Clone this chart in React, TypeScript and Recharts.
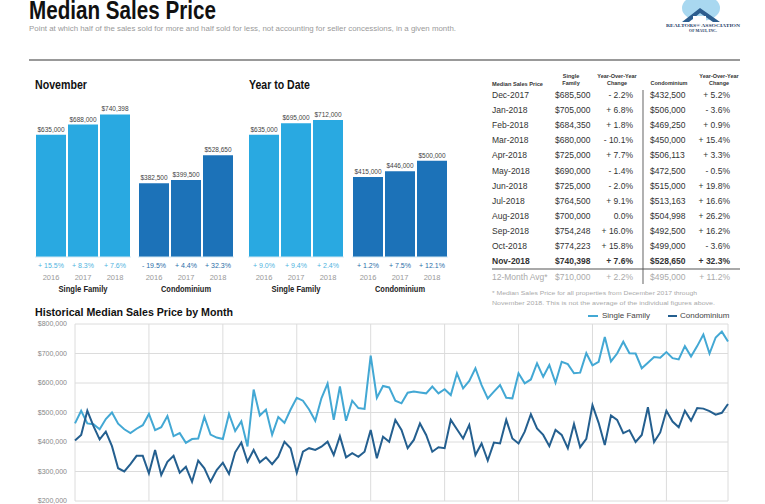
import React from 'react';
import { BarChart, Bar, XAxis, YAxis, LabelList, LineChart, Line, CartesianGrid } from 'recharts';

const FONT = '"Liberation Sans", Arial, sans-serif';
const LIGHT = '#29a9e1';
const DARK = '#1c72b8';
const LINE_LIGHT = '#43a8d4';
const LINE_DARK = '#245f8f';

// bar panels
const barYears = ['2016', '2017', '2018'];
const novSingle = [635000, 688000, 740398];
const novSingleChg = ['+ 15.5%', '+ 8.3%', '+ 7.6%'];
const novCondo = [382500, 399500, 528650];
const novCondoChg = ['- 19.5%', '+ 4.4%', '+ 32.3%'];
const ytdSingle = [635000, 695000, 712000];
const ytdSingleChg = ['+ 9.0%', '+ 9.4%', '+ 2.4%'];
const ytdCondo = [415000, 446000, 500000];
const ytdCondoChg = ['+ 1.2%', '+ 7.5%', '+ 12.1%'];

// table
const tableMonths = ['Dec-2017', 'Jan-2018', 'Feb-2018', 'Mar-2018', 'Apr-2018', 'May-2018', 'Jun-2018', 'Jul-2018', 'Aug-2018', 'Sep-2018', 'Oct-2018', 'Nov-2018'];
const tableSingle = [685500, 705000, 684350, 680000, 725000, 690000, 725000, 764500, 700000, 754248, 774223, 740398];
const tableSingleChg = ['- 2.2%', '+ 6.8%', '+ 1.8%', '- 10.1%', '+ 7.7%', '- 1.4%', '- 2.0%', '+ 9.1%', '0.0%', '+ 16.0%', '+ 15.8%', '+ 7.6%'];
const tableCondo = [432500, 506000, 469250, 450000, 506113, 472500, 515000, 513163, 504998, 492500, 499000, 528650];
const tableCondoChg = ['+ 5.2%', '- 3.6%', '+ 0.9%', '+ 15.4%', '+ 3.3%', '- 0.5%', '+ 19.8%', '+ 16.6%', '+ 26.2%', '+ 16.2%', '- 3.6%', '+ 32.3%'];
const avgRow = ['12-Month Avg*', '$710,000', '+ 2.2%', '$495,000', '+ 11.2%'];

// history, Jan 2010 - Nov 2018, in $1,000s
const historyYears = [2010, 2011, 2012, 2013, 2014, 2015, 2016, 2017, 2018];
const monthNames = ['Jan', 'Feb', 'Mar', 'Apr', 'May', 'Jun', 'Jul', 'Aug', 'Sep', 'Oct', 'Nov', 'Dec'];
const singleFamily = [
  463, 506, 463, 460, 443, 478, 500, 462, 443, 430, 445, 457,
  495, 440, 450, 488, 420, 430, 397, 410, 412, 485, 425, 415,
  410, 495, 437, 470, 385, 578, 490, 510, 425, 485, 465, 510,
  550, 540, 510, 472, 548, 598, 475, 588, 472, 540, 515, 512,
  693, 550, 590, 585, 540, 531, 567, 571, 568, 565, 588, 565,
  579, 559, 633, 582, 607, 650, 593, 548, 571, 593, 550, 548,
  633, 599, 612, 667, 621, 661, 601, 672, 664, 633, 635, 701,
  660, 672, 756, 673, 700, 740, 701, 700, 650, 669, 688, 685.5,
  705, 684.35, 680, 725, 690, 725, 764.5, 700, 754.248, 774.223, 740.398,
];
const condominium = [
  405, 424, 506, 454, 409, 435, 386, 311, 300, 325, 353, 353,
  294, 373, 288, 333, 353, 296, 316, 265, 337, 311, 265, 305,
  330, 292, 365, 398, 333, 373, 331, 348, 325, 350, 401, 379,
  296, 367, 379, 373, 384, 401, 356, 420, 348, 362, 350, 367,
  441, 345, 418, 401, 475, 441, 379, 407, 463, 424, 367, 382,
  379, 475, 443, 412, 458, 356, 395, 337, 398, 395, 475, 412,
  395, 435, 494, 446, 424, 386, 441, 424, 379, 461, 382.5, 411,
  525, 465, 390, 490, 475, 430, 440, 400, 424, 518, 399.5, 432.5,
  506, 469.25, 450, 506.113, 472.5, 515, 513.163, 504.998, 492.5, 499, 528.65,
];
const yTicks = [200, 300, 400, 500, 600, 700, 800];

const monthLabels: string[] = [];
historyYears.forEach((y) => monthNames.forEach((m) => monthLabels.push(`${m}-${String(y).slice(2)}`)));
const history = singleFamily.map((v, i) => ({ month: monthLabels[i], single: v, condo: condominium[i] }));
const xTicks = history.filter((d, i) => d.month.startsWith('Jan') || i === history.length - 1).map((d) => d.month);

const money = (v: number) => '$' + Math.round(v).toLocaleString('en-US');

const ChangeTick = (props: any) => {
  const { x, y, payload, changes, color } = props;
  return (
    <g>
      <text x={x} y={y + 10.5} textAnchor="middle" fontSize={7} fill={color} fontFamily={FONT}>{changes[payload.index]}</text>
      <text x={x} y={y + 22.5} textAnchor="middle" fontSize={7.5} fill="#999" fontFamily={FONT}>{payload.value}</text>
    </g>
  );
};

const GroupBars = ({ left, values, changes, color, chgColor, label, labelWidth }: any) => {
  const data = barYears.map((y, i) => ({ year: y, value: values[i] }));
  return (
    <div style={{ position: 'absolute', left, top: 93 }}>
      <BarChart width={96} height={204} data={data} margin={{ top: 10, right: 0, bottom: 0, left: 0 }} barCategoryGap={1}>
        <YAxis hide domain={[0, 800000]} />
        <XAxis
          dataKey="year"
          height={40}
          interval={0}
          tickSize={0}
          tickMargin={0}
          tickLine={false}
          axisLine={{ stroke: '#d3e8f3' }}
          tick={(p: any) => <ChangeTick {...p} changes={changes} color={chgColor} />}
          label={{
            content: (p: any) => {
              const vb = p.viewBox;
              return (
                <text x={vb.x + vb.width / 2} y={vb.y + 34.5} textAnchor="middle" fontSize={8.5} fontWeight="bold" fill="#222" fontFamily={FONT} textLength={labelWidth} lengthAdjust="spacingAndGlyphs">{label}</text>
              );
            },
          }}
        />
        <Bar dataKey="value" fill={color} isAnimationActive={false}>
          <LabelList dataKey="value" position="top" offset={3} formatter={(v: any) => money(v)} style={{ fontSize: 6.5, fill: '#444', fontFamily: FONT }} />
        </Bar>
      </BarChart>
    </div>
  );
};

const HistoryLegend = () => (
  <div style={{ position: 'absolute', left: 588, top: 311, display: 'flex', alignItems: 'center', fontFamily: FONT, fontSize: 8, color: '#444', lineHeight: '10px' }}>
    <span style={{ display: 'inline-block', width: 10, height: 2, background: LINE_LIGHT, marginRight: 4 }} />
    <span style={{ marginRight: 18 }}>Single Family</span>
    <span style={{ display: 'inline-block', width: 9, height: 2, background: LINE_DARK, marginRight: 3 }} />
    <span>Condominium</span>
  </div>
);

const Overlay = () => {
  const rowY = (i: number) => 98 + i * 15.1;
  return (
    <svg width={765} height={504} style={{ position: 'absolute', left: 0, top: 0, pointerEvents: 'none' }} fontFamily={FONT}>
      <text x={29} y={18.5} fontSize={25} fontWeight="bold" fill="#111" textLength={187} lengthAdjust="spacingAndGlyphs">Median Sales Price</text>
      <text x={29} y={30.5} fontSize={7} fill="#9a9a9a" textLength={427} lengthAdjust="spacingAndGlyphs">
        Point at which half of the sales sold for more and half sold for less, not accounting for seller concessions, in a given month.
      </text>
      <line x1={29} y1={60} x2={740} y2={60} stroke="#777" strokeWidth={1.3} />

      {/* logo */}
      <ellipse cx={701} cy={8} rx={19} ry={13} fill="#a9d8f0" />
      <polygon points="682,22 700,8 720,22 713,22 700,13 689,22" fill="#2c5d8e" />
      <rect x={693} y={16} width={13} height={6} fill="#fff" />
      <text x={703} y={27} fontSize={4.8} fontWeight="bold" fill="#1d3b66" textAnchor="middle" fontFamily='"Liberation Serif", serif' textLength={74} lengthAdjust="spacingAndGlyphs">REALTORS® ASSOCIATION</text>
      <text x={703} y={32} fontSize={4.8} fontWeight="bold" fill="#1d3b66" textAnchor="middle" fontFamily='"Liberation Serif", serif' textLength={28} lengthAdjust="spacingAndGlyphs">OF MAUI, INC.</text>

      <text x={35} y={88.5} fontSize={12} fontWeight="bold" fill="#111" textLength={52} lengthAdjust="spacingAndGlyphs">November</text>
      <text x={249} y={88.5} fontSize={12} fontWeight="bold" fill="#111" textLength={61} lengthAdjust="spacingAndGlyphs">Year to Date</text>

      {/* table header */}
      <g fontSize={5.5} fontWeight="bold" fill="#333">
        <text x={492} y={86} textLength={51} lengthAdjust="spacingAndGlyphs">Median Sales Price</text>
        <text x={571} y={77.5} textAnchor="middle">Single</text>
        <text x={571} y={85} textAnchor="middle">Family</text>
        <text x={617} y={77.5} textAnchor="middle">Year-Over-Year</text>
        <text x={617} y={85} textAnchor="middle">Change</text>
        <text x={669} y={85} textAnchor="middle">Condominium</text>
        <text x={719} y={77.5} textAnchor="middle">Year-Over-Year</text>
        <text x={719} y={85} textAnchor="middle">Change</text>
      </g>
      <g fontSize={8.5} fill="#333">
        {tableMonths.map((m, i) => {
          const bold = i === tableMonths.length - 1 ? 'bold' : 'normal';
          return (
            <g key={m} fontWeight={bold}>
              <text x={492} y={rowY(i)}>{m}</text>
              <text x={555} y={rowY(i)}>{money(tableSingle[i])}</text>
              <text x={633} y={rowY(i)} textAnchor="end">{tableSingleChg[i]}</text>
              <text x={650} y={rowY(i)}>{money(tableCondo[i])}</text>
              <text x={730} y={rowY(i)} textAnchor="end">{tableCondoChg[i]}</text>
            </g>
          );
        })}
        <g fill="#aaa">
          <text x={492} y={280}>{avgRow[0]}</text>
          <text x={555} y={280}>{avgRow[1]}</text>
          <text x={633} y={280} textAnchor="end">{avgRow[2]}</text>
          <text x={650} y={280}>{avgRow[3]}</text>
          <text x={730} y={280} textAnchor="end">{avgRow[4]}</text>
        </g>
      </g>
      <line x1={643} y1={90} x2={643} y2={284} stroke="#888" strokeWidth={1.3} />
      <line x1={492} y1={269} x2={740} y2={269} stroke="#555" strokeWidth={1.1} />
      <text x={492} y={295} fontSize={6} fill="#aaa" textLength={205} lengthAdjust="spacingAndGlyphs">* Median Sales Price for all properties from December 2017 through</text>
      <text x={492} y={305} fontSize={6} fill="#aaa" textLength={223} lengthAdjust="spacingAndGlyphs">November 2018. This is not the average of the individual figures above.</text>

      <text x={35} y={316} fontSize={11} fontWeight="bold" fill="#111" textLength={198} lengthAdjust="spacingAndGlyphs">Historical Median Sales Price by Month</text>
    </svg>
  );
};

export default function App() {
  return (
    <div style={{ position: 'absolute', left: 0, top: 0, width: 765, height: 504, overflow: 'hidden', background: '#fff', fontFamily: FONT }}>
      <GroupBars left={35} values={novSingle} changes={novSingleChg} color={LIGHT} chgColor="#4fb3e0" label="Single Family" labelWidth={49} />
      <GroupBars left={138} values={novCondo} changes={novCondoChg} color={DARK} chgColor="#2b6ea8" label="Condominium" labelWidth={50} />
      <GroupBars left={248} values={ytdSingle} changes={ytdSingleChg} color={LIGHT} chgColor="#4fb3e0" label="Single Family" labelWidth={49} />
      <GroupBars left={352} values={ytdCondo} changes={ytdCondoChg} color={DARK} chgColor="#2b6ea8" label="Condominium" labelWidth={50} />

      <div style={{ position: 'absolute', left: 0, top: 300 }}>
        <LineChart width={765} height={231} data={history} margin={{ top: 24, right: 37, bottom: 0, left: 0 }}>
          <CartesianGrid stroke="#dcdcdc" strokeWidth={1} />
          <XAxis dataKey="month" ticks={xTicks} interval={0} height={30} axisLine={false} tickLine={false} tick={() => <g />} />
          <YAxis
            width={75}
            domain={[200, 800]}
            ticks={yTicks}
            axisLine={false}
            tickLine={false}
            tickMargin={2}
            tick={{ fontSize: 7, fill: '#888', fontFamily: FONT }}
            tickFormatter={(v: number) => `$${v},000`}
          />
          <Line type="linear" dataKey="single" name="Single Family" stroke={LINE_LIGHT} strokeWidth={2} dot={false} isAnimationActive={false} />
          <Line type="linear" dataKey="condo" name="Condominium" stroke={LINE_DARK} strokeWidth={2} dot={false} isAnimationActive={false} />
        </LineChart>
      </div>
      <HistoryLegend />

      <Overlay />
    </div>
  );
}
